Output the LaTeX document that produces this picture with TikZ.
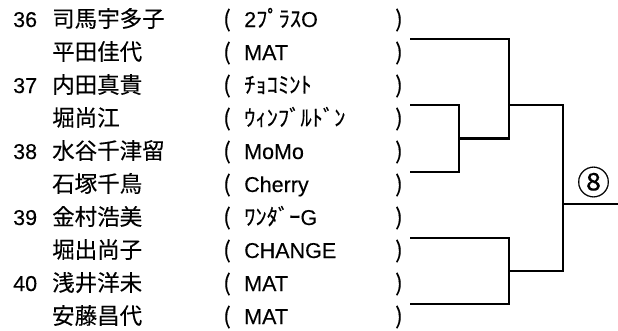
\documentclass[tikz,border=0pt]{standalone}
\usepackage{fontspec}
\setmainfont{Liberation Sans}[FakeBold=0.2]
\newfontfamily\jp{Noto Sans CJK JP}[FakeBold=0.2]
\usepackage{tikz}

\newcommand{\kj}[1]{{\jp\fontsize{22.5}{22.5}\selectfont #1}}

\tikzset{
    entry/.style={anchor=base west, inner sep=0pt, font=\fontsize{21.5}{21.5}\selectfont},
    paren/.style={anchor=base, inner sep=0pt, font=\jp\fontsize{22.5}{22.5}\selectfont},
    bracket/.style={line width=2.8pt},
}

\begin{document}
\begin{tikzpicture}[x=1pt, y=-1pt]
    \useasboundingbox (0, 0) rectangle (618, 330);

    % Seed numbers
    \node [entry] (n36) at (13, 27) {36};
    \node [entry] (n37) at (13, 93) {37};
    \node [entry] (n38) at (13, 159) {38};
    \node [entry] (n39) at (13, 225) {39};
    \node [entry] (n40) at (13, 291) {40};

    % Players
    \node [entry] (p1) at (52, 27) {\kj{司馬宇多子}};
    \node [entry] (p2) at (52, 60) {\kj{平田佳代}};
    \node [entry] (p3) at (52, 93) {\kj{内田真貴}};
    \node [entry] (p4) at (52, 126) {\kj{堀尚江}};
    \node [entry] (p5) at (52, 159) {\kj{水谷千津留}};
    \node [entry] (p6) at (52, 192) {\kj{石塚千鳥}};
    \node [entry] (p7) at (52, 225) {\kj{金村浩美}};
    \node [entry] (p8) at (52, 258) {\kj{堀出尚子}};
    \node [entry] (p9) at (52, 291) {\kj{浅井洋未}};
    \node [entry] (p10) at (52, 324) {\kj{安藤昌代}};

    % Teams
    \node [entry] (t1) at (244, 27) {2\kj{ﾌﾟﾗｽ}O};
    \node [entry] (t2) at (244, 60) {MAT};
    \node [entry] (t3) at (244, 93) {\kj{ﾁｮｺﾐﾝﾄ}};
    \node [entry] (t4) at (244, 126) {\kj{ｳｨﾝﾌﾞﾙﾄﾞﾝ}};
    \node [entry] (t5) at (244, 159) {MoMo};
    \node [entry] (t6) at (244, 192) {Cherry};
    \node [entry] (t7) at (244, 225) {\kj{ﾜﾝﾀﾞｰ}G};
    \node [entry] (t8) at (244, 258) {CHANGE};
    \node [entry] (t9) at (244, 291) {MAT};
    \node [entry] (t10) at (244, 324) {MAT};

    % Parentheses
    \node [paren] (l1) at (227, 27) {(};
    \node [paren] (l2) at (227, 60) {(};
    \node [paren] (l3) at (227, 93) {(};
    \node [paren] (l4) at (227, 126) {(};
    \node [paren] (l5) at (227, 159) {(};
    \node [paren] (l6) at (227, 192) {(};
    \node [paren] (l7) at (227, 225) {(};
    \node [paren] (l8) at (227, 258) {(};
    \node [paren] (l9) at (227, 291) {(};
    \node [paren] (l10) at (227, 324) {(};
    \node [paren] (r1) at (399, 27) {)};
    \node [paren] (r2) at (399, 60) {)};
    \node [paren] (r3) at (399, 93) {)};
    \node [paren] (r4) at (399, 126) {)};
    \node [paren] (r5) at (399, 159) {)};
    \node [paren] (r6) at (399, 192) {)};
    \node [paren] (r7) at (399, 225) {)};
    \node [paren] (r8) at (399, 258) {)};
    \node [paren] (r9) at (399, 291) {)};
    \node [paren] (r10) at (399, 324) {)};

    % Bracket ends
    \coordinate (b1) at (410, 39);
    \coordinate (b2) at (410, 105);
    \coordinate (b3) at (410, 172);
    \coordinate (b4) at (410, 238);
    \coordinate (b5) at (410, 304);
    \coordinate (m23) at (459, 138.5);
    \coordinate (m45) at (509, 271);
    \coordinate (top) at (509, 105);
    \coordinate (fin) at (563, 204);
    \coordinate (out) at (618, 204);

    % Bracket lines
    \draw [bracket] (b2) -| (m23) |- (b3);
    \draw [bracket] (b1) -| (509, 138.5) -- (m23);
    \draw [bracket] (b4) -| (m45) |- (b5);
    \draw [bracket] (top) -| (563, 271) -- (m45);
    \draw [bracket] (fin) -- (out);

    % Match number
    \node [font=\jp\fontsize{33}{33}\selectfont, inner sep=0pt] (m8) at (593.5, 182) {⑧};
\end{tikzpicture}
\end{document}
